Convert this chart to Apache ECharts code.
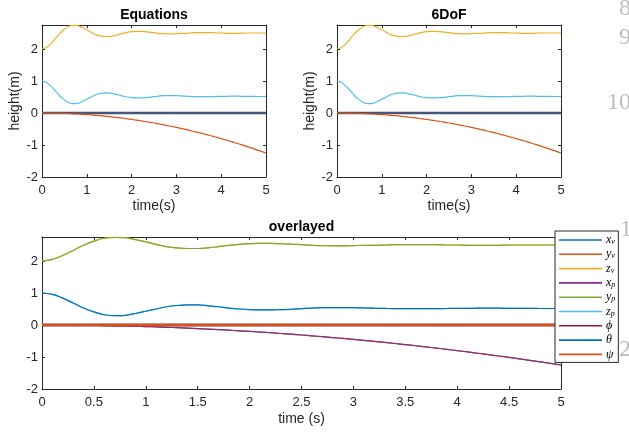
<!DOCTYPE html>
<html>
<head>
<meta charset="utf-8">
<script src="https://cdn.jsdelivr.net/npm/echarts@6/dist/echarts.min.js"></script>
<style>html,body{margin:0;padding:0;background:#fff}#c{width:629px;height:433px}</style>
</head>
<body>
<div id="c"></div>
<script>
// ---- data ----
const time = [0,0.1,0.2,0.3,0.4,0.5,0.6,0.7,0.8,0.9,1.0,1.1,1.2,1.3,1.4,1.5,1.6,1.7,1.8,1.9,2.0,2.1,2.2,2.3,2.4,2.5,2.6,2.7,2.8,2.9,3.0,3.1,3.2,3.3,3.4,3.5,3.6,3.7,3.8,3.9,4.0,4.1,4.2,4.3,4.4,4.5,4.6,4.7,4.8,4.9,5.0];
const xPos = [0,0,0,0,0,0,0,0,0,0,0,0,0,0,0,0,0,0,0,0,0,0,0,0,0,0,0,0,0,0,0,0,0,0,0,0,0,0,0,0,0,0,0,0,0,0,0,0,0,0,0];
const yPos = [0,-0.001,-0.002,-0.005,-0.008,-0.013,-0.018,-0.025,-0.032,-0.041,-0.05,-0.061,-0.072,-0.085,-0.098,-0.113,-0.128,-0.145,-0.162,-0.181,-0.2,-0.221,-0.242,-0.265,-0.288,-0.313,-0.338,-0.365,-0.392,-0.421,-0.45,-0.481,-0.512,-0.545,-0.578,-0.613,-0.648,-0.685,-0.722,-0.761,-0.8,-0.841,-0.882,-0.925,-0.968,-1.013,-1.058,-1.105,-1.152,-1.201,-1.25];
const zPos = [2.00,2.05,2.17,2.33,2.49,2.62,2.71,2.74,2.73,2.67,2.60,2.52,2.45,2.41,2.39,2.39,2.41,2.45,2.49,2.52,2.54,2.55,2.55,2.54,2.53,2.51,2.49,2.48,2.47,2.47,2.48,2.49,2.49,2.50,2.51,2.51,2.51,2.51,2.51,2.50,2.50,2.49,2.49,2.49,2.49,2.50,2.50,2.50,2.50,2.50,2.50];
const angleOsc = [1.00,0.955,0.84,0.69,0.53,0.41,0.32,0.29,0.30,0.36,0.43,0.50,0.57,0.61,0.63,0.63,0.60,0.57,0.53,0.50,0.48,0.47,0.47,0.48,0.49,0.51,0.53,0.54,0.545,0.545,0.54,0.535,0.525,0.52,0.51,0.51,0.51,0.51,0.51,0.515,0.52,0.52,0.525,0.525,0.525,0.52,0.52,0.52,0.515,0.515,0.52];
const angleZero = [0,0,0,0,0,0,0,0,0,0,0,0,0,0,0,0,0,0,0,0,0,0,0,0,0,0,0,0,0,0,0,0,0,0,0,0,0,0,0,0,0,0,0,0,0,0,0,0,0,0,0];
const titles = ['Equations', '6DoF', 'overlayed'];
const legendNames = ['x_v','y_v','z_v','x_p','y_p','z_p','phi','theta','psi'];
const legendLabels = {
  x_v:'{i|x}{s|v}', y_v:'{i|y}{s|v}', z_v:'{i|z}{s|v}',
  x_p:'{i|x}{s|p}', y_p:'{i|y}{s|p}', z_p:'{i|z}{s|p}',
  phi:'{i|ϕ}', theta:'{i|θ}', psi:'{i|ψ}'
};
const yTicks = [-2,-1,0,1,2];

// ---- helpers ----
const C = {blue:'#0072BD', orange:'#D95319', yellow:'#EDB120', purple:'#7E2F8E', green:'#77AC30', lblue:'#4DBEEE', red:'#A2142F'};
const pairs = v => time.map((t,i)=>[t, v[i]]);
const AX = '#262626';
const FONT = 'Liberation Sans, Arial, Helvetica, sans-serif';

function line(name, vals, color, width, g) {
  return {type:'line', name, data: pairs(vals), xAxisIndex: g*2, yAxisIndex: g*2,
    showSymbol:false, symbol:'none', smooth:0.3, animation:false, silent:true,
    lineStyle:{color, width}, itemStyle:{color}, emphasis:{disabled:true}};
}
function xAx(g, pos, interval, labels, name, gap) {
  return {type:'value', gridIndex:g, position:pos, min:0, max:5, interval,
    axisLine:{show:true, onZero:false, lineStyle:{color:AX, width:1}},
    axisTick:{show:true, inside:true, length:3, lineStyle:{color:AX, width:1}},
    axisLabel:{show:labels, margin:7, fontSize:13, color:AX, fontFamily:FONT},
    splitLine:{show:false},
    name: labels ? name : '', nameLocation:'middle', nameGap:gap,
    nameTextStyle:{fontSize:14, color:AX, fontFamily:FONT}};
}
function yAx(g, pos, labels, name) {
  return {type:'value', gridIndex:g, position:pos, min:-2, max:2.75, interval:1,
    axisLine:{show:true, onZero:false, lineStyle:{color:AX, width:1}},
    axisTick:{show:true, inside:true, length:3, lineStyle:{color:AX, width:1},
      customValues: yTicks},
    axisLabel:{show:labels, margin:4, fontSize:13, color:AX, fontFamily:FONT,
      customValues: yTicks,
      formatter: v => yTicks.includes(v) ? String(v) : ''},
    splitLine:{show:false},
    name: name || '', nameLocation:'middle', nameGap:20,
    nameTextStyle:{fontSize:14, color:AX, fontFamily:FONT}};
}

const grids = [
  {left:42, top:25, width:224, height:152},
  {left:337, top:25, width:224, height:152},
  {left:42, top:237, width:519, height:152}
].map(g => Object.assign(g, {containLabel:false, outerBoundsMode:'none'}));

const xAxes = [
  xAx(0,'bottom',1,true,'time(s)',22), xAx(0,'top',1,false,'',0),
  xAx(1,'bottom',1,true,'time(s)',22), xAx(1,'top',1,false,'',0),
  xAx(2,'bottom',0.5,true,'time (s)',23), xAx(2,'top',0.5,false,'',0)
];
const yAxes = [
  yAx(0,'left',true,'height(m)'), yAx(0,'right',false),
  yAx(1,'left',true,'height(m)'), yAx(1,'right',false),
  yAx(2,'left',true,''), yAx(2,'right',false)
];

const series = [];
[0,1].forEach(g => {
  series.push(line('angles'+g, angleZero, '#46557a', 2.5, g));
  series.push(line('y'+g, yPos, C.orange, 1.2, g));
  series.push(line('z'+g, zPos, C.yellow, 1.2, g));
  series.push(line('psi'+g, angleOsc, C.lblue, 1.2, g));
});
series.push(line('x_v', xPos, C.blue, 2.5, 2));
series.push(line('y_v', yPos, C.orange, 1.2, 2));
series.push(line('z_v', zPos, C.yellow, 1.2, 2));
series.push(line('x_p', yPos, C.purple, 1.2, 2));
series.push(line('y_p', zPos, C.green, 1.2, 2));
series.push(line('z_p', angleOsc, C.lblue, 1.2, 2));
series.push(line('phi', angleZero, C.red, 2.5, 2));
series.push(line('theta', angleOsc, C.blue, 1.2, 2));
series.push(line('psi', angleZero, C.orange, 2.5, 2));

const titleCenters = [154, 449, 301.5];
const titleTops = [8, 8, 220];
const titleOpts = titles.map((t,i)=>({text:t, left:titleCenters[i], top:titleTops[i], textAlign:'center',
  padding:0, textStyle:{fontSize:14, fontWeight:'bold', color:'#000', fontFamily:FONT}}));

const bgDigits = [
  {t:'8', x:619, y:21}, {t:'9', x:619, y:50}, {t:'10', x:607, y:115},
  {t:'1', x:620, y:242}, {t:'2', x:619, y:362}
];

const chart = echarts.init(document.getElementById('c'), null, {renderer:'canvas'});
chart.setOption({
  animation:false,
  backgroundColor:'#fff',
  title: titleOpts,
  grid: grids,
  xAxis: xAxes,
  yAxis: yAxes,
  series,
  legend: {
    data: legendNames, orient:'vertical', left:555, top:231,
    backgroundColor:'#fff', borderColor:AX, borderWidth:1,
    padding:[3,3,2,4], itemGap:2.3, itemWidth:43, itemHeight:1.6, icon:'rect',
    selectedMode:false, z:10,
    itemStyle:{borderWidth:0},
    lineStyle:{width:1.6},
    formatter: n => legendLabels[n],
    textStyle:{fontSize:12, lineHeight:12, color:'#000', padding:[0,0,0,-1],
      rich:{
        i:{fontFamily:'Liberation Serif, DejaVu Serif, serif', fontStyle:'italic', fontSize:12, lineHeight:12, verticalAlign:'top'},
        s:{fontFamily:'Liberation Serif, DejaVu Serif, serif', fontStyle:'italic', fontSize:8, lineHeight:12, verticalAlign:'bottom'}
      }}
  },
  graphic: bgDigits.map(d => ({type:'text', x:d.x, y:d.y, z:-10, silent:true,
    style:{text:d.t, font:'24px "Liberation Serif", serif', fill:'#bdbdbd', verticalAlign:'bottom'}}))
});
</script>
</body>
</html>
